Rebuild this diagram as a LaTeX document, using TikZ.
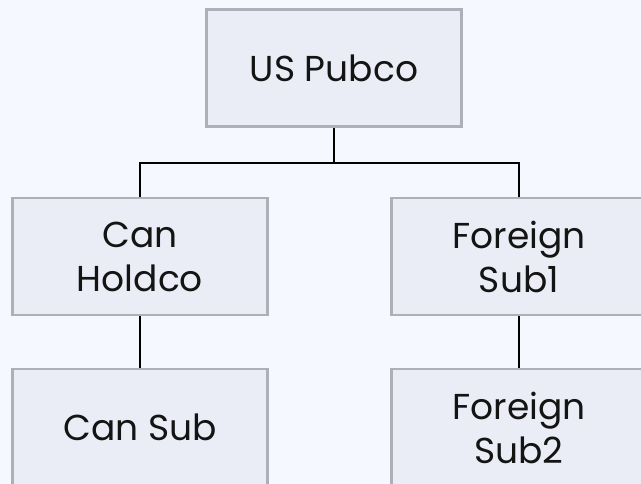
\documentclass[tikz,border=0pt]{standalone}
\usepackage{fontspec}
\setmainfont{Poppins}
\definecolor{pagebg}{HTML}{F5F8FE}
\definecolor{boxfill}{HTML}{EBEDF6}
\definecolor{boxline}{HTML}{ADB0B8}
\definecolor{ink}{HTML}{141414}
\begin{document}
\begin{tikzpicture}[x=1pt,y=-1pt,
  entity/.style={draw=boxline, line width=2.6pt, fill=boxfill,
    minimum width=255pt, minimum height=117pt, inner sep=0pt,
    align=center, text=ink, font=\fontsize{36}{44}\selectfont},
  link/.style={draw=black, line width=2.2pt}]
  \useasboundingbox (0,0) rectangle (641,484);
  \fill[pagebg] (0,0) rectangle (641,484);
  \clip (0,0) rectangle (641,484);
  % corporate structure boxes
  \node[entity] (pub) at (334,68) {US Pubco};
  \node[entity] (hold) at (140,256.5) {Can\\Holdco};
  \node[entity] (fs1) at (519,256.5) {Foreign\\Sub1};
  \node[entity] (csub) at (140,427.5) {Can Sub};
  \node[entity] (fs2) at (519,427.5) {Foreign\\Sub2};
  % ownership lines
  \coordinate (bus) at (334,163);
  \draw[link] (pub.south) -- (bus) -| (hold.north);
  \draw[link] (bus) -| (fs1.north);
  \draw[link] (hold.south) -- (csub.north);
  \draw[link] (fs1.south) -- (fs2.north);
\end{tikzpicture}
\end{document}
